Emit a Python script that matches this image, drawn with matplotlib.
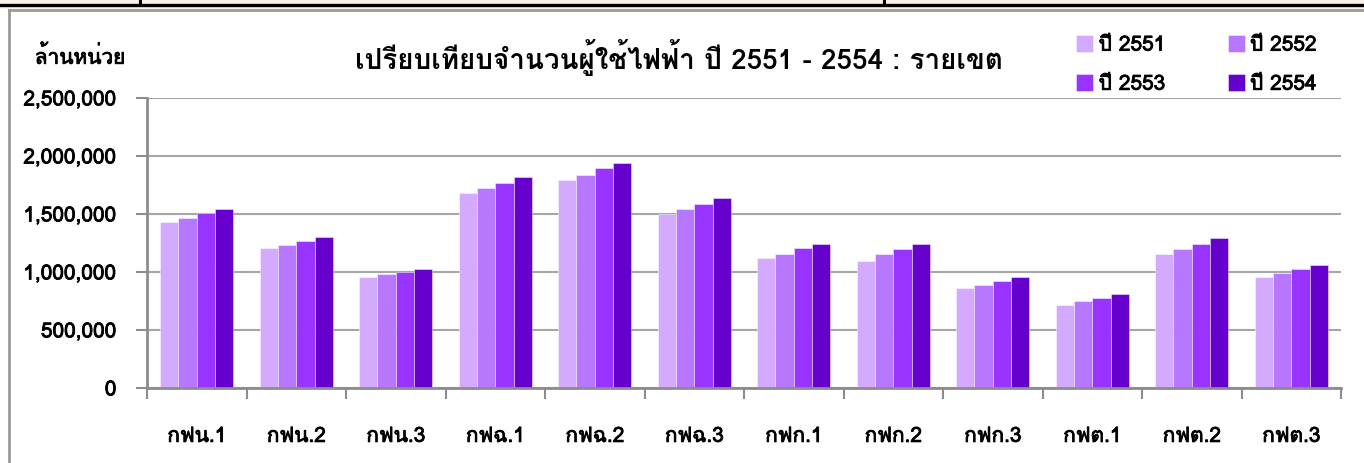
import matplotlib
matplotlib.use("Agg")
import matplotlib.pyplot as plt
import matplotlib.patheffects as pe
import numpy as np
from matplotlib.patches import Rectangle
from matplotlib.lines import Line2D
from matplotlib.ticker import FuncFormatter, MultipleLocator

# ---------------- data ----------------
categories = ["กฟน.1", "กฟน.2", "กฟน.3", "กฟฉ.1", "กฟฉ.2", "กฟฉ.3",
              "กฟก.1", "กฟก.2", "กฟก.3", "กฟต.1", "กฟต.2", "กฟต.3"]
series_names = ["ปี 2551", "ปี 2552", "ปี 2553", "ปี 2554"]
y2551 = [1427000, 1210000, 957000, 1679000, 1794000, 1496000,
         1118000, 1095000, 866000, 716000, 1152000, 957000]
y2552 = [1462000, 1232000, 980000, 1726000, 1840000, 1542000,
         1152000, 1152000, 888000, 751000, 1198000, 991000]
y2553 = [1507000, 1267000, 1003000, 1771000, 1898000, 1588000,
         1210000, 1198000, 923000, 774000, 1244000, 1026000]
y2554 = [1539000, 1301000, 1026000, 1817000, 1943000, 1634000,
         1244000, 1244000, 957000, 808000, 1290000, 1060000]
title = "เปรียบเทียบจำนวนผู้ใช้ไฟฟ้า ปี 2551 - 2554 : รายเขต"
unit_label = "ล้านหน่วย"

colors = ["#D4AAFF", "#B777FF", "#9933FF", "#6600CC"]
FONTS = ["Loma", "Noto Sans Thai Looped", "DejaVu Sans"]
plt.rcParams["font.family"] = FONTS
heavier = [pe.withStroke(linewidth=0.6, foreground="black")]

W, H = 1364, 463
fig = plt.figure(figsize=(W / 100, H / 100), dpi=100)

def fx(px):
    return px / W

def fy(py):
    return 1 - py / H

# ---------------- decorative frame ----------------
fig.add_artist(Rectangle((0, fy(9)), 1, 9 / H, transform=fig.transFigure,
                         facecolor="#FDF1E7", edgecolor="none", zorder=0))
fig.add_artist(Line2D([0, 1], [fy(5), fy(5)], transform=fig.transFigure,
                      color="black", lw=2.4))
for xv in (140, 884):
    fig.add_artist(Line2D([fx(xv), fx(xv)], [1, fy(5)], transform=fig.transFigure,
                          color="black", lw=2.2))
# chart-area border (gray)
fig.add_artist(Line2D([fx(9), 1], [fy(10), fy(10)], transform=fig.transFigure,
                      color="#9a9a9a", lw=2.0))
fig.add_artist(Line2D([fx(9), fx(9)], [fy(10), 0], transform=fig.transFigure,
                      color="#9a9a9a", lw=2.0))

# ---------------- axes ----------------
left, right, top, bottom = 147, 1341, 98, 388
ax = fig.add_axes([fx(left), fy(bottom), (right - left) / W, (bottom - top) / H])

n = len(categories)
x = np.arange(n) + 0.5
bw = 0.1845
all_series = [y2551, y2552, y2553, y2554]
bars = []
for k, (vals, c, name) in enumerate(zip(all_series, colors, series_names)):
    b = ax.bar(x + (k - 1.5) * bw, vals, width=bw, color=c, label=name,
               edgecolor=(1, 1, 1, 0.45), linewidth=0.7, zorder=3)
    bars.append(b)

ax.set_xlim(0, n)
ax.set_ylim(0, 2500000)
ax.yaxis.set_major_locator(MultipleLocator(500000))
ax.yaxis.set_major_formatter(FuncFormatter(lambda v, p: f"{int(v):,}"))
ax.grid(axis="y", color="#a6a6a6", lw=1.5, zorder=0)
ax.set_axisbelow(True)

for s in ("top", "right"):
    ax.spines[s].set_visible(False)
for s in ("left", "bottom"):
    ax.spines[s].set_color("#8c8c8c")
    ax.spines[s].set_linewidth(2.0)
    ax.spines[s].set_zorder(4)

ax.set_xticks(x)
ax.set_xticklabels(categories)
ax.set_xticks(np.arange(n + 1), minor=True)
ax.tick_params(axis="x", which="major", length=0, pad=28, labelsize=15)
ax.tick_params(axis="x", which="minor", length=8, width=1.5, color="#8c8c8c",
               direction="out")
ax.tick_params(axis="y", length=8, width=1.5, color="#8c8c8c", pad=14,
               labelsize=15)
for lab in ax.get_xticklabels() + ax.get_yticklabels():
    lab.set_path_effects(heavier)

# ---------------- texts ----------------
fig.text(fx(679), fy(58), title, ha="center", va="center", fontsize=20,
         fontweight="bold")
fig.text(fx(80), fy(56), unit_label, ha="center", va="center", fontsize=15,
         path_effects=heavier)

# ---------------- legend (row-wise order: 2551 2552 / 2553 2554) ----------------
order = [0, 2, 1, 3]
leg = fig.legend([bars[i] for i in order], [series_names[i] for i in order],
                 ncol=2, loc="upper left",
                 bbox_to_anchor=(fx(1068), fy(27)), frameon=False, fontsize=15,
                 handlelength=0.82, handleheight=0.82, handletextpad=0.25,
                 columnspacing=3.0, labelspacing=0.95, borderaxespad=0)
for t in leg.get_texts():
    t.set_path_effects(heavier)

fig.savefig("out.png", dpi=100)
